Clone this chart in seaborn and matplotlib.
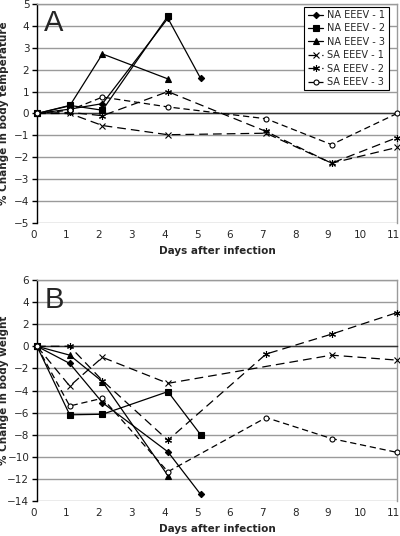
import matplotlib
matplotlib.use("Agg")
import matplotlib.pyplot as plt
import matplotlib.transforms as mtransforms
import seaborn as sns
import numpy as np
import pandas as pd

# ---- Data ----
series_names = ["NA EEEV - 1", "NA EEEV - 2", "NA EEEV - 3",
                "SA EEEV - 1", "SA EEEV - 2", "SA EEEV - 3"]

# Panel A: % change in body temperature
temp_days = {
    "NA EEEV - 1": [0, 1, 2, 4, 5],
    "NA EEEV - 2": [0, 1, 2, 4],
    "NA EEEV - 3": [0, 1, 2, 4],
    "SA EEEV - 1": [0, 1, 2, 4, 7, 9, 11],
    "SA EEEV - 2": [0, 1, 2, 4, 7, 9, 11],
    "SA EEEV - 3": [0, 1, 2, 4, 7, 9, 11],
}
temp_vals = {
    "NA EEEV - 1": [0, 0.2, 0.45, 4.35, 1.6],
    "NA EEEV - 2": [0, 0.37, 0.15, 4.45],
    "NA EEEV - 3": [0, 0.35, 2.72, 1.58],
    "SA EEEV - 1": [0, 0.0, -0.55, -0.97, -0.9, -2.27, -1.55],
    "SA EEEV - 2": [0, 0.05, -0.1, 1.0, -0.82, -2.27, -1.1],
    "SA EEEV - 3": [0, 0.15, 0.75, 0.3, -0.24, -1.42, 0.0],
}

# Panel B: % change in body weight
weight_days = {
    "NA EEEV - 1": [0, 1, 2, 4, 5],
    "NA EEEV - 2": [0, 1, 2, 4, 5],
    "NA EEEV - 3": [0, 1, 2, 4],
    "SA EEEV - 1": [0, 1, 2, 4, 9, 11],
    "SA EEEV - 2": [0, 1, 2, 4, 7, 9, 11],
    "SA EEEV - 3": [0, 1, 2, 4, 7, 9, 11],
}
weight_vals = {
    "NA EEEV - 1": [0, -1.55, -5.1, -9.55, -13.4],
    "NA EEEV - 2": [0, -6.2, -6.15, -4.1, -8.0],
    "NA EEEV - 3": [0, -0.8, -3.2, -11.7],
    "SA EEEV - 1": [0, -3.6, -1.0, -3.35, -0.8, -1.25],
    "SA EEEV - 2": [0, 0.0, -3.1, -8.5, -0.7, 1.1, 3.05],
    "SA EEEV - 3": [0, -5.4, -4.7, -11.35, -6.45, -8.35, -9.6],
}

x_ticks = list(range(0, 12))
temp_ticks = list(range(-5, 6))
weight_ticks = list(range(-14, 7, 2))

# ---- Styles ----
styles = {
    "NA EEEV - 1": dict(marker="D", ms=3.2, ls="-", mfc="black"),
    "NA EEEV - 2": dict(marker="s", ms=4.0, ls="-", mfc="black"),
    "NA EEEV - 3": dict(marker="^", ms=4.2, ls="-", mfc="black"),
    "SA EEEV - 1": dict(marker="x", ms=4.0, ls=(0, (7, 4)), mfc="black"),
    "SA EEEV - 2": dict(marker=(6, 2, 0), ms=5.0, ls=(0, (7, 4)), mfc="black"),
    "SA EEEV - 3": dict(marker="o", ms=3.6, ls=(0, (5, 3)), mfc="white"),
}

sns.set_style("white")
plt.rcParams["font.family"] = ["DejaVu Sans"]

fig = plt.figure(figsize=(4.0, 5.36), dpi=100)
axA = fig.add_axes([0.0925, 0.584, 0.9, 0.4085])
axB = fig.add_axes([0.0925, 0.0653, 0.9, 0.4123])


def draw(ax, days, vals, yticks, ylabel, letter, legend):
    for name in series_names:
        st = styles[name]
        df = pd.DataFrame({"day": days[name], "val": vals[name]})
        sns.lineplot(data=df, x="day", y="val", ax=ax, color="black",
                     linewidth=0.9, marker=st["marker"], markersize=st["ms"],
                     markerfacecolor=st["mfc"], markeredgecolor="black",
                     markeredgewidth=0.8, linestyle=st["ls"],
                     label=name, clip_on=False, zorder=5)
    ax.set_xlim(0, 11)
    ax.set_ylim(yticks[0], yticks[-1])
    ax.set_yticks(yticks)
    ax.set_xticks(x_ticks)
    ax.yaxis.grid(True, color="#9a9a9a", linewidth=1.0)
    ax.xaxis.grid(False)
    ax.set_axisbelow(True)
    for s in ["top", "right"]:
        ax.spines[s].set_color("#9a9a9a")
        ax.spines[s].set_linewidth(1.0)
    ax.spines["left"].set_color("black")
    ax.spines["left"].set_linewidth(1.0)
    ax.spines["bottom"].set_position(("data", 0))
    ax.spines["bottom"].set_color("#333333")
    ax.spines["bottom"].set_linewidth(1.0)
    ax.tick_params(axis="x", direction="inout", length=6, width=1,
                   color="#333333", labelbottom=False)
    ax.tick_params(axis="y", direction="out", length=3.5, width=1,
                   color="black", labelsize=7.5, pad=2, left=True)
    ax.set_xlabel("")
    ax.set_ylabel(ylabel, fontsize=7.5, fontweight="bold")
    ax.yaxis.set_label_coords(-0.078, 0.5)

    sec = ax.secondary_xaxis(0)
    sec.set_xticks(x_ticks)
    sec.tick_params(length=0, labelsize=7.5, pad=5)
    sec.spines["bottom"].set_visible(False)
    offset = mtransforms.ScaledTranslation(-3.5 / 100, 0, fig.dpi_scale_trans)
    for lbl in sec.get_xticklabels():
        lbl.set_transform(lbl.get_transform() + offset)

    ax.text(0.5, -0.128, "Days after infection", transform=ax.transAxes,
            fontsize=7.5, fontweight="bold", ha="center", va="center")

    ax.text(0.02, 0.975, letter, transform=ax.transAxes, fontsize=21,
            family=["Liberation Sans"], va="top", ha="left")

    if legend:
        leg = ax.legend(loc="upper right", bbox_to_anchor=(0.977, 0.988),
                        fontsize=7, frameon=True, fancybox=False,
                        edgecolor="black", framealpha=1, handlelength=1.6,
                        handletextpad=0.4, borderpad=0.35, labelspacing=0.35,
                        borderaxespad=0)
        leg.get_frame().set_linewidth(0.8)
    else:
        lg = ax.get_legend()
        if lg is not None:
            lg.remove()


draw(axA, temp_days, temp_vals, temp_ticks,
     "% Change in body temperature", "A", True)
draw(axB, weight_days, weight_vals, weight_ticks,
     "% Change in body weight", "B", False)

fig.savefig("out.png", dpi=100)
